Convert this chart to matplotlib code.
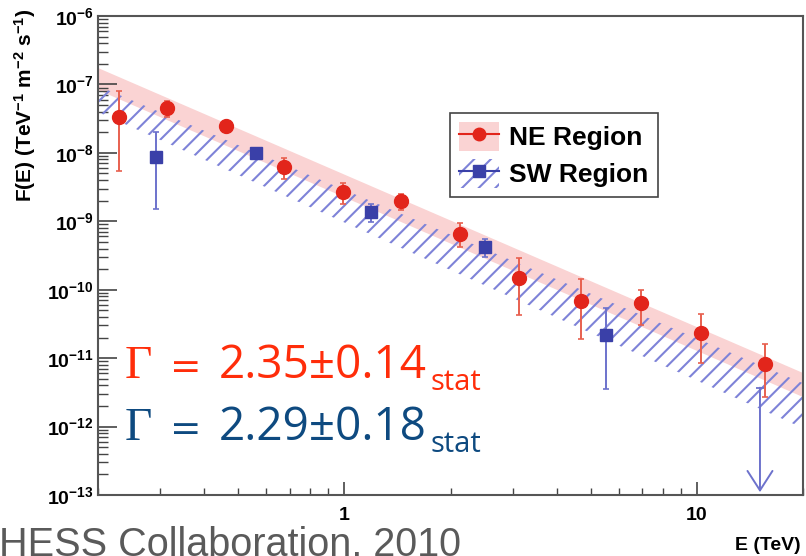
import numpy as np
import matplotlib
matplotlib.use('Agg')
from matplotlib import pyplot as plt
from matplotlib.patches import Patch
from matplotlib.lines import Line2D
from matplotlib.legend_handler import HandlerTuple
from matplotlib.ticker import LogLocator, NullFormatter, FuncFormatter

plt.rcParams['font.family'] = ['Liberation Sans', 'DejaVu Sans']
plt.rcParams['font.weight'] = 'bold'
plt.rcParams['mathtext.fontset'] = 'custom'
plt.rcParams['mathtext.rm'] = 'Liberation Sans:bold'
plt.rcParams['mathtext.it'] = 'Liberation Sans:bold'
plt.rcParams['mathtext.bf'] = 'Liberation Sans:bold'
plt.rcParams['hatch.linewidth'] = 1.5

# NE region points (E in TeV, flux and error bar ends)
ne_e = [0.229, 0.313, 0.46, 0.672, 0.99, 1.45, 2.13, 3.13, 4.69, 6.94, 10.3, 15.6]
ne_f = [3.3e-8, 4.5e-8, 2.47e-8, 6.2e-9, 2.68e-9, 1.98e-9, 6.5e-10, 1.48e-10, 6.8e-11, 6.4e-11, 2.33e-11, 8.2e-12]
ne_hi = [8.0e-8, 5.7e-8, 2.9e-8, 8.4e-9, 3.6e-9, 2.5e-9, 9.4e-10, 2.9e-10, 1.43e-10, 1.0e-10, 4.4e-11, 1.6e-11]
ne_lo = [5.4e-9, 3.3e-8, 2.1e-8, 4.2e-9, 1.8e-9, 1.46e-9, 4.2e-10, 4.2e-11, 1.9e-11, 3.0e-11, 8.4e-12, 2.7e-12]

# SW region points
sw_e = [0.293, 0.56, 1.19, 2.51, 5.52]
sw_f = [8.7e-9, 9.95e-9, 1.37e-9, 4.2e-10, 2.18e-11]
sw_hi = [2.0e-8, 1.12e-8, 1.8e-9, 5.5e-10, 5.4e-11]
sw_lo = [1.5e-9, 8.6e-9, 9.6e-10, 3.0e-10, 3.5e-12]
sw_ul_e = 15.1
sw_ul_f = 3.7e-12
ul_bottom = 1.1e-13

# fit bands (edges at the ends of the energy range)
band_e = [0.2, 20]
ne_band_hi = [1.74e-7, 6.07e-12]
ne_band_lo = [8.3e-8, 2.7e-12]
sw_band_hi = [9.5e-8, 4.3e-12]
sw_band_lo = [3.95e-8, 9.5e-13]

labels = ['NE Region', 'SW Region']

red = '#e2251b'
red_err = '#e8604f'
pink = '#fad3d3'
blue = '#3a40a8'
blue_err = '#6d72cc'
blue_hatch = '#7e83d8'

W, H = 806, 556
fig = plt.figure(figsize=(W / 100, H / 100), dpi=100)
ax = fig.add_axes([98 / W, 1 - 495 / H, (803 - 98) / W, (495 - 16) / H])
ax.set_xscale('log')
ax.set_yscale('log')
ax.set_xlim(0.2, 20)
ax.set_ylim(1e-13, 1e-6)

ax.fill_between(band_e, ne_band_lo, ne_band_hi, facecolor=pink, edgecolor='none', zorder=1)
ax.fill_between(band_e, sw_band_lo, sw_band_hi, facecolor='none', edgecolor=blue_hatch,
                hatch='//', linewidth=0, zorder=2)

ne_f_a = np.array(ne_f)
sw_f_a = np.array(sw_f)
ax.errorbar(ne_e, ne_f, yerr=[ne_f_a - np.array(ne_lo), np.array(ne_hi) - ne_f_a],
            fmt='none', ecolor=red_err, elinewidth=1.4, capsize=2.5, capthick=1.2, zorder=3)
ax.errorbar(sw_e, sw_f, yerr=[sw_f_a - np.array(sw_lo), np.array(sw_hi) - sw_f_a],
            fmt='none', ecolor=blue_err, elinewidth=1.4, capsize=2.5, capthick=1.2, zorder=3)
ax.plot(ne_e, ne_f, 'o', color=red, ms=10, mec=red, zorder=4)
ax.plot(sw_e, sw_f, 's', color=blue, ms=9, mec=blue, zorder=4)

# upper limit
ax.plot([sw_ul_e], [sw_ul_f], '_', color=blue_err, ms=6, mew=1.3, zorder=3)
ax.annotate('', xy=(sw_ul_e, ul_bottom), xytext=(sw_ul_e, sw_ul_f),
            arrowprops=dict(arrowstyle='->,head_length=1.4,head_width=0.9', color=blue_err,
                            lw=1.4, shrinkA=0, shrinkB=0), zorder=3)

ax.yaxis.set_major_locator(LogLocator(base=10, numticks=20))
ax.yaxis.set_minor_locator(LogLocator(base=10, subs=np.arange(2, 10), numticks=20))
ax.yaxis.set_minor_formatter(NullFormatter())
ax.xaxis.set_major_locator(LogLocator(base=10, numticks=20))
ax.xaxis.set_minor_locator(LogLocator(base=10, subs=np.arange(2, 10), numticks=20))
ax.xaxis.set_major_formatter(FuncFormatter(lambda v, p: '%g' % v))
ax.xaxis.set_minor_formatter(NullFormatter())

ax.tick_params(which='both', direction='in', top=False, right=False, color='#444', labelcolor='black', labelsize=14)
ax.tick_params(axis='y', which='major', length=14, width=1.2, pad=3)
ax.tick_params(axis='y', which='minor', length=7, width=1.0)
ax.tick_params(axis='x', which='major', length=9.5, width=1.2, pad=9)
ax.tick_params(axis='x', which='minor', length=5, width=1.0)
for sp in ax.spines.values():
    sp.set_color('#555')
    sp.set_linewidth(1.5)

fig.text(25 / W, 1 - 105 / H, r'F(E) (TeV$^{-1}$ m$^{-2}$ s$^{-1}$)', rotation=90,
         ha='center', va='center', fontsize=15, fontweight='bold')
fig.text(801 / W, 1 - 546 / H, 'E (TeV)', ha='right', va='center', fontsize=14, fontweight='bold')

handles = [
    (Patch(facecolor=pink, edgecolor='none'), Line2D([], [], color=red, marker='o', ms=9, lw=1.5)),
    (Patch(facecolor='none', edgecolor=blue_hatch, hatch='//', lw=0),
     Line2D([], [], color=blue, marker='s', ms=8, lw=1.5)),
]
leg = ax.legend(handles, labels, handler_map={tuple: HandlerTuple(ndivide=1)},
                loc='upper left', bbox_to_anchor=(450 / W, 1 - 113 / H), bbox_transform=fig.transFigure,
                borderaxespad=0, fancybox=False, edgecolor='#444', framealpha=1,
                prop={'family': 'Liberation Sans', 'weight': 'bold', 'size': 19},
                handlelength=1.5, handleheight=1.3, borderpad=0.35, labelspacing=0.3, handletextpad=0.4)
leg.get_frame().set_linewidth(1.2)

# spectral index annotations
gam_colors = ['#ff2d0a', '#0e4a80']
gam_vals = ['2.35\u00b10.14', '2.29\u00b10.18']
baselines = [378, 440]
for col, val, yb in zip(gam_colors, gam_vals, baselines):
    fig.text(125 / W, 1 - yb / H, '\u0393', color=col, fontsize=34, family='Liberation Serif',
             fontweight='normal', va='baseline')
    fig.text(170 / W, 1 - yb / H, '=', color=col, fontsize=27, family='DejaVu Sans',
             fontweight='normal', va='baseline')
    fig.text(219 / W, 1 - yb / H, val, color=col, fontsize=33, family='Open Sans',
             fontweight='normal', va='baseline')
    fig.text(431 / W, 1 - (yb + 12) / H, 'stat', color=col, fontsize=21, family='Open Sans',
             fontweight='normal', va='baseline')

fig.text(-1 / W, 1 - 556 / H, 'HESS Collaboration, 2010', color='#5a5a5a', fontsize=28.5,
         family='Liberation Sans', fontweight='normal', va='baseline')

fig.savefig('out.png', dpi=100)
